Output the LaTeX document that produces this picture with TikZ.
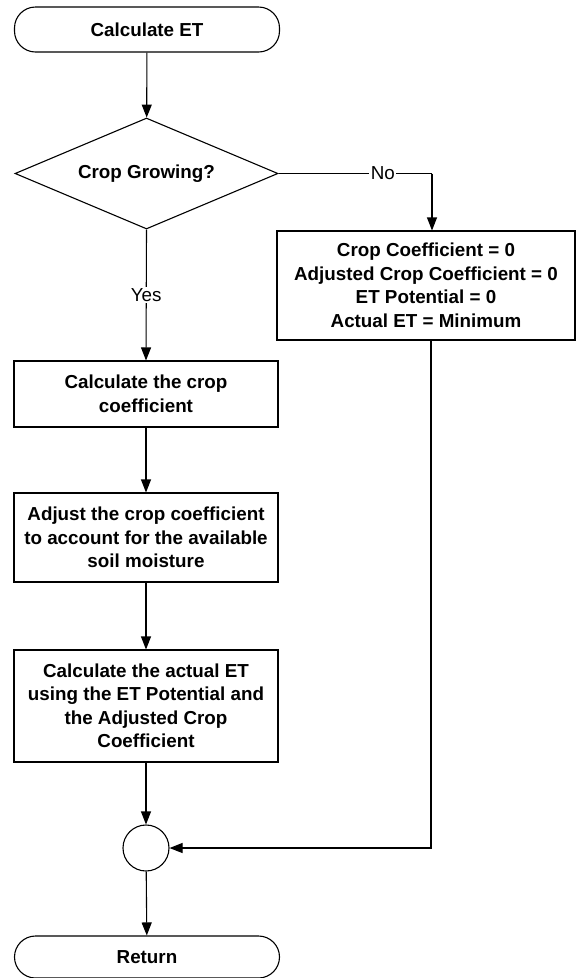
\documentclass[tikz,border=0pt]{standalone}
\usepackage{fontspec}
\setmainfont{Liberation Sans}
\usetikzlibrary{shapes.geometric,arrows.meta}
\begin{document}
\begin{tikzpicture}[x=1pt,y=-1pt,
  every node/.style={font=\fontsize{18.8}{23.5}\selectfont},
  flow/.style={line width=1.1pt, draw=black},
  arr/.style={flow, -{Triangle[length=13pt,width=10pt]}},
  terminal/.style={flow, rectangle, rounded corners=21pt, minimum width=265pt,
    inner sep=0pt, font=\fontsize{18.8}{23.5}\selectfont\bfseries},
  process/.style={flow, rectangle, inner sep=0pt, align=center,
    font=\fontsize{18.8}{23.5}\selectfont\bfseries},
  decision/.style={flow, diamond, aspect=2.37, inner sep=0pt,
    minimum width=263pt, minimum height=111pt,
    font=\fontsize{18.8}{23.5}\selectfont\bfseries},
  junction/.style={flow, circle, minimum size=46pt, inner sep=0pt},
  lbl/.style={fill=white, inner sep=1.5pt}
]
\useasboundingbox (0,0) rectangle (576,978);

% main column
\node[terminal, minimum height=45pt] (start) at (147,29.5) {Calculate ET};
\node[decision] (dec) at (146.5,173.5) {Crop Growing?};
\node[process, minimum width=264pt, minimum height=66pt] (kc) at (146,394)
  {Calculate the crop\\coefficient};
\node[process, minimum width=264pt, minimum height=89pt] (adj) at (146,537.5)
  {Adjust the crop coefficient\\to account for the available\\soil moisture};
\node[process, minimum width=264pt, minimum height=112pt] (act) at (146,706)
  {Calculate the actual ET\\using the ET Potential and\\the Adjusted Crop\\Coefficient};
\node[junction] (merge) at (146,848) {};
\node[terminal, minimum height=42pt] (ret) at (147,957) {Return};

% branch for no crop
\node[process, minimum width=298pt, minimum height=109pt] (zero) at (426,285.5)
  {Crop Coefficient = 0\\Adjusted Crop Coefficient = 0\\ET Potential = 0\\Actual ET = Minimum};

\coordinate (nocorner) at (432,173.5);
\coordinate (backcorner) at (431,848);

% connectors
\draw[arr] (start) -- (dec);
\draw[arr] (dec.south) -- node[lbl, font=\fontsize{18.8}{23.5}\selectfont] {Yes} (kc.north);
\draw[arr] (kc) -- (adj);
\draw[arr] (adj) -- (act);
\draw[arr] (act) -- (merge);
\draw[arr] (merge) -- (ret);
\draw[flow] (dec.east) -- node[lbl, pos=0.68] {No} (nocorner);
\draw[arr] (nocorner) -- (nocorner |- zero.north);
\draw[arr] (backcorner |- zero.south) -- (backcorner) -- (merge.east);
\end{tikzpicture}
\end{document}
